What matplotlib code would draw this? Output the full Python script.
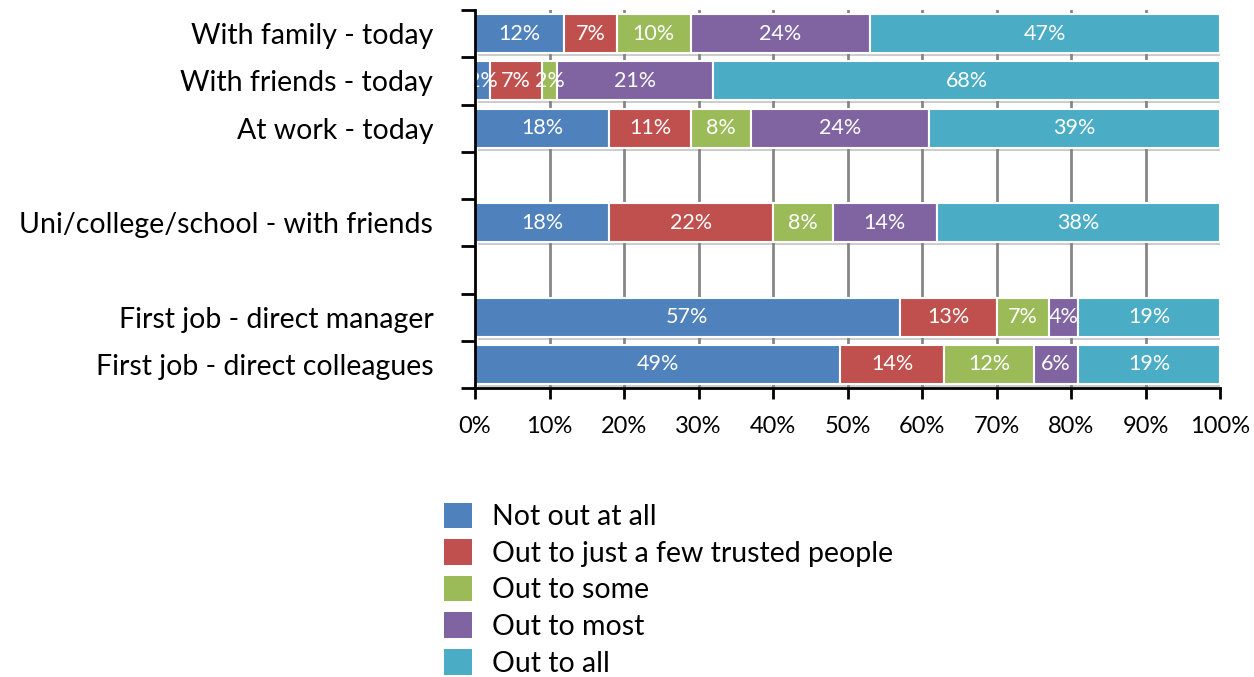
import matplotlib
matplotlib.use("Agg")
import matplotlib.pyplot as plt
import matplotlib.patheffects as pe
from matplotlib.patches import Patch
import numpy as np

plt.rcParams['font.family'] = ['Lato', 'DejaVu Sans']

categories = ["With family - today", "With friends - today", "At work - today", "",
              "Uni/college/school - with friends", "", "First job - direct manager",
              "First job - direct colleagues"]
series_names = ["Not out at all", "Out to just a few trusted people", "Out to some",
                "Out to most", "Out to all"]
not_out = [12, 2, 18, 0, 18, 0, 57, 49]
few_trusted = [7, 7, 11, 0, 22, 0, 13, 14]
some = [10, 2, 8, 0, 8, 0, 7, 12]
most = [24, 21, 24, 0, 14, 0, 4, 6]
all_out = [47, 68, 39, 0, 38, 0, 19, 19]
series = [not_out, few_trusted, some, most, all_out]
colors = ["#4F81BD", "#C0504D", "#9BBB59", "#8064A2", "#4BACC6"]
xticks = list(range(0, 101, 10))

fig = plt.figure(figsize=(12.54, 6.77), dpi=100)
ax = fig.add_axes([475/1254, 1-388/677, (1220-475)/1254, (388-10)/677])

y = np.arange(len(categories))
left = np.zeros(len(categories))
shadow = [pe.SimplePatchShadow(offset=(2, -2), shadow_rgbFace='gray', alpha=0.4), pe.Normal()]
for vals, col, name in zip(series, colors, series_names):
    vals = np.array(vals, dtype=float)
    bars = ax.barh(y, vals, left=left, height=0.83, color=col, edgecolor='white',
                   linewidth=1.5, label=name, zorder=3)
    for b, v in zip(bars, vals):
        b.set_path_effects(shadow)
        if v > 0:
            ax.text(b.get_x() + v/2, b.get_y() + b.get_height()/2, f"{int(v)}%",
                    ha='center', va='center', color='white', fontsize=15.5, zorder=4)
    left += vals

ax.set_xlim(0, 100)
ax.set_ylim(7.5, -0.5)
ax.set_xticks(xticks)
ax.set_xticklabels([f"{t}%" for t in xticks], fontsize=17)
ax.set_yticks(y)
ax.set_yticklabels(categories, fontsize=20.5)
ax.set_yticks(np.arange(-0.5, 8, 1), minor=True)
ax.tick_params(axis='y', which='major', length=0, pad=30)
ax.tick_params(axis='y', which='minor', length=10, width=2, direction='out')
ax.tick_params(axis='x', length=8, width=2, direction='out', pad=12)
for t in xticks[1:-1]:
    ax.axvline(t, color='#868686', linewidth=2, zorder=1)
for s in ['top', 'right']:
    ax.spines[s].set_visible(False)
ax.spines['left'].set_linewidth(2)
ax.spines['bottom'].set_linewidth(2)
ax.spines['left'].set_zorder(5)
ax.spines['bottom'].set_zorder(5)

handles = [Patch(facecolor=c, edgecolor='none') for c in colors]
fig.legend(handles, series_names, loc='upper left', bbox_to_anchor=(418/1254, 1-477/677),
           frameon=False, fontsize=20.5, handlelength=1.0, handleheight=1.0,
           labelspacing=0.32, handletextpad=0.7)

fig.savefig("out.png", dpi=100)
